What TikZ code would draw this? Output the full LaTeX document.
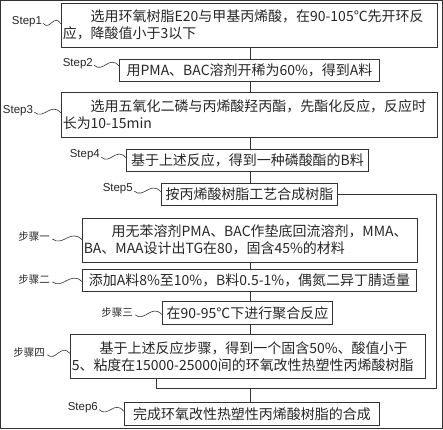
\documentclass[tikz,border=0pt]{standalone}
\usepackage{fontspec}
\setmainfont{Liberation Sans}
\newfontfamily\cjk{Noto Sans CJK SC}
\usetikzlibrary{calc}

\begin{document}
\begin{tikzpicture}
[
x=1pt, y=-1pt,
every path/.style={draw=black!80, line width=0.8pt},
stepbox/.style={draw, inner xsep=1.5pt, inner ysep=0pt, align=left, text=black!85,
  font=\cjk\fontsize{14}{17}\selectfont},
tag/.style={inner sep=0pt, anchor=east, text=black!85, font=\fontsize{11.5}{12}\selectfont},
cjktag/.style={tag, font=\cjk\fontsize{10.5}{12}\selectfont},
squig/.style={line width=0.6pt, to path={.. controls ($(\tikztostart)!0.35!(\tikztotarget)+(0,8)$)
  and ($(\tikztostart)!0.62!(\tikztotarget)+(0,-11)$) .. (\tikztotarget)}}
]
\useasboundingbox (0,0) rectangle (443,429);

% main column
\node[stepbox, minimum width=377pt, minimum height=44pt, text width=374pt] (s1) at (249.5,25)
  {\hspace*{2em}选用环氧树脂E20与甲基丙烯酸，在90-105℃先开环反\\应，降酸值小于3以下};
\node[stepbox, minimum width=261pt, minimum height=22pt] (s2) at (249.5,70)
  {用PMA、BAC溶剂开稀为60\%，得到A料};
\node[stepbox, minimum width=377pt, minimum height=45pt, text width=374pt] (s3) at (249.5,114.5)
  {\hspace*{2em}选用五氧化二磷与丙烯酸羟丙酯，先酯化反应，反应时\\长为10-15min};
\node[stepbox, minimum width=243pt, minimum height=22pt] (s4) at (247.5,160)
  {基于上述反应，得到一种磷酸酯的B料};
\node[stepbox, minimum width=177pt, minimum height=22pt] (s5) at (249.5,194)
  {按丙烯酸树脂工艺合成树脂};

% resin synthesis
\node[stepbox, minimum width=336pt, minimum height=44pt, text width=333pt] (r1) at (250,240)
  {\hspace*{2em}用无苯溶剂PMA、BAC作垫底回流溶剂，MMA、\\BA、MAA设计出TG在80，固含45\%的材料};
\node[stepbox, minimum width=335pt, minimum height=23pt] (r2) at (249.5,280.5)
  {添加A料8\%至10\%，B料0.5-1\%，偶氮二异丁腈适量};
\node[stepbox, minimum width=171pt, minimum height=23pt] (r3) at (247.5,313.5)
  {在90-95℃下进行聚合反应};
\node[stepbox, minimum width=356pt, minimum height=44pt, text width=353pt] (r4) at (248,357)
  {\hspace*{2em}基于上述反应步骤，得到一个固含50\%、酸值小于\\5、粘度在15000-25000间的环氧改性热塑性丙烯酸树脂};

\node[stepbox, minimum width=256pt, minimum height=23pt] (s6) at (252,414.5)
  {完成环氧改性热塑性丙烯酸树脂的合成};

% tags
\node[tag] (t1) at (42,21) {Step1};
\node[tag] (t2) at (93,63) {Step2};
\node[tag] (t3) at (33,110) {Step3};
\node[tag] (t4) at (100,155) {Step4};
\node[tag] (t5) at (133,189) {Step5};
\node[cjktag] (u1) at (50,237) {步骤一};
\node[cjktag] (u2) at (50,280) {步骤二};
\node[cjktag] (u3) at (133,313) {步骤三};
\node[cjktag] (u4) at (45,353) {步骤四};
\node[tag] (t6) at (98,408) {Step6};

\draw[squig] ([shift={(1,2)}]t1.east) to ([yshift=-21pt]s1.north west);
\draw[squig] ([shift={(1,2)}]t2.east) to ([yshift=-7pt]s2.north west);
\draw[squig] ([shift={(1,2)}]t3.east) to ([yshift=-21pt]s3.north west);
\draw[squig] ([shift={(1,2)}]t4.east) to ([yshift=-9pt]s4.north west);
\draw[squig] ([shift={(1,2)}]t5.east) to ([yshift=-9pt]s5.north west);
\draw[squig] ([shift={(2,2)}]u1.east) to ([yshift=-22pt]r1.north west);
\draw[squig] ([shift={(2,2)}]u2.east) to ([yshift=-13pt]r2.north west);
\draw[squig] ([shift={(2,2)}]u3.east) to ([yshift=-13pt]r3.north west);
\draw[squig] ([shift={(2,2)}]u4.east) to ([yshift=-19pt]r4.north west);
\draw[squig] ([shift={(1,2)}]t6.east) to ([yshift=-9pt]s6.north west);

% connectors
\coordinate (jr) at (437,389);
\coordinate (jl) at (156,389);
\coordinate (jm) at (250,389);
\draw (s1.south -| jm) -- (s2.north -| jm);
\draw (s2.south -| jm) -- (s3.north -| jm);
\draw (s3.south -| jm) -- (s4.north -| jm);
\draw (s4.south -| jm) -- (s5.north -| jm);
\draw (r1.south -| jm) -- (r2.north -| jm);
\draw (r2.south -| jm) -- (r3.north -| jm);
\draw (r3.south -| jm) -- (r4.north -| jm);
\draw (s5.east) -| (jr) -- (jl) -- (jl |- r4.south);
\draw (jm) -- (jm |- s6.north);
\end{tikzpicture}
\end{document}
